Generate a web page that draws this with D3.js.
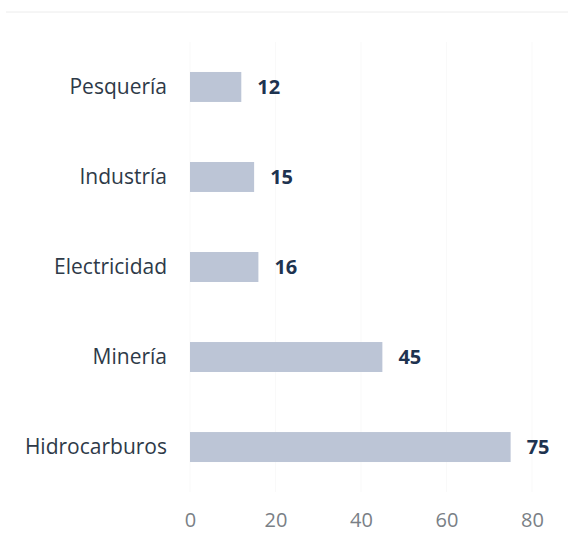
<!DOCTYPE html>
<html>
<head>
<meta charset="utf-8">
<script src="https://cdn.jsdelivr.net/npm/d3@7"></script>
<style>
  body { margin: 0; background: #fff; }
  svg text { font-family: "Open Sans", "Noto Sans", sans-serif; }
</style>
</head>
<body>
<svg id="chart" width="568" height="536"></svg>
<script>
const categories = ["Pesquería", "Industría", "Electricidad", "Minería", "Hidrocarburos"]
const values = [12, 15, 16, 45, 75]
const tickValues = [0, 20, 40, 60, 80]

const svg = d3.select("#chart")

const x = d3.scaleLinear().domain([0, 80]).range([190, 532])
const y = d3.scaleBand().domain(categories).range([42, 492]).paddingInner(0.667).paddingOuter(0.333)

// faint scan line at top
svg.append("line").attr("x1", 6).attr("x2", 568).attr("y1", 12).attr("y2", 12)
  .style("stroke", "#ececec").style("stroke-width", 1)

// faint gridlines
svg.append("g").selectAll("line").data(tickValues).enter().append("line")
  .attr("x1", d => x(d)).attr("x2", d => x(d))
  .attr("y1", 42).attr("y2", 492)
  .style("stroke", "#f9f9f9").style("stroke-width", 1)

svg.append("g").selectAll("rect").data(values).enter().append("rect")
  .attr("x", x(0))
  .attr("y", (d, i) => y(categories[i]))
  .attr("width", d => x(d) - x(0))
  .attr("height", y.bandwidth())
  .style("fill", "#bcc5d6")

// value labels
svg.append("g").selectAll("text").data(values).enter().append("text")
  .attr("x", d => x(d) + 16)
  .attr("y", (d, i) => y(categories[i]) + y.bandwidth() / 2)
  .attr("dy", "0.35em")
  .style("font-size", "20px")
  .style("font-weight", "700")
  .style("fill", "#1e3350")
  .text(d => d)

// category labels
svg.append("g").selectAll("text").data(categories).enter().append("text")
  .attr("x", 167)
  .attr("y", d => y(d) + y.bandwidth() / 2)
  .attr("dy", "0.35em")
  .style("text-anchor", "end")
  .style("font-size", "21px")
  .style("fill", "#2e3a48")
  .text(d => d)

// x axis tick labels
const xAxis = d3.axisBottom(x).tickValues(tickValues).tickSize(0).tickPadding(0)
const ax = svg.append("g").attr("transform", "translate(0,513)").call(xAxis)
ax.select(".domain").remove()
ax.selectAll("text")
  .style("font-size", "20px")
  .style("fill", "#7a7f86")
  .style("font-family", "'Open Sans', 'Noto Sans', sans-serif")
</script>
</body>
</html>
